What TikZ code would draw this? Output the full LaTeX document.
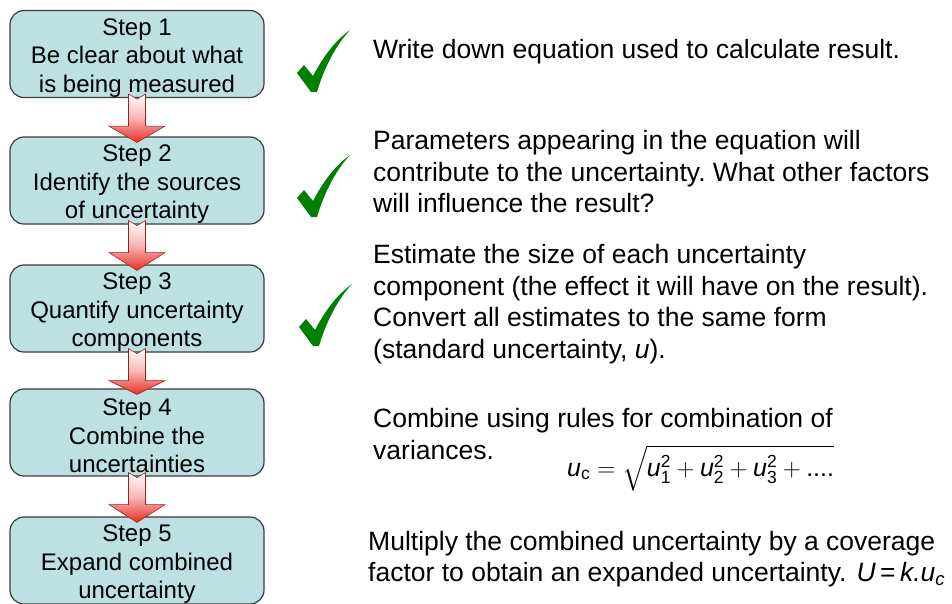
\documentclass[tikz,border=0pt]{standalone}
\usepackage{fontspec}
\setmainfont{Liberation Sans}
\usepackage{amsmath}
\usetikzlibrary{calc}
\frenchspacing

\definecolor{stepfill}{RGB}{189,224,227}
\definecolor{stepline}{RGB}{60,60,60}
\definecolor{tickgreen}{RGB}{0,128,0}
\definecolor{flowred}{RGB}{232,45,38}

\begin{document}
\begin{tikzpicture}[
    x=1pt, y=-1pt,
    stepbox/.style={draw=stepline, line width=1.2pt, fill=stepfill, rounded corners=14pt,
                    align=center, minimum width=254pt, minimum height=87pt, inner sep=0pt,
                    font=\fontsize{24}{28.5}\selectfont},
    note/.style={anchor=west, align=left, inner sep=0pt, font=\fontsize{26.5}{31.5}\selectfont},
    flowarrow/.style={draw=flowred!70!black, line width=0.6pt,
                      top color=white, bottom color=flowred, middle color=flowred!35!white},
    greentick/.pic={\fill[tickgreen] (1,43) -- (8,35) -- (17,46)
        .. controls (28,25) and (40,10) .. (54,0)
        .. controls (40,15) and (28,38) .. (21,62) -- (15,62) -- cycle;},
]
\useasboundingbox (0,0) rectangle (952,603);

% ---- Steps ----
\node[stepbox] (s1) at (137,54) {\rule{0pt}{24pt}Step 1\\Be clear about what\\is being measured};
\node[stepbox] (s2) at (137,180.5) {\rule{0pt}{24pt}Step 2\\Identify the sources\\of uncertainty};
\node[stepbox] (s3) at (137,308.5) {\rule{0pt}{24pt}Step 3\\Quantify uncertainty\\components};
\node[stepbox] (s4) at (137,432.5) {\rule{0pt}{24pt}Step 4\\Combine the\\uncertainties};
\node[stepbox] (s5) at (137,560.5) {\rule{0pt}{24pt}Step 5\\Expand combined\\uncertainty};

% ---- Block arrows between steps ----
\foreach \a/\b in {s1/s2, s2/s3, s3/s4, s4/s5}
    \shadedraw[flowarrow] ($(\a.south)+(-8.5,-4)$) -- ($(\a.south)+(0,1)$) -- ($(\a.south)+(8.5,-4)$)
        -- ($(\a.south)+(8.5,28)$) -- ($(\a.south)+(28,28)$) -- ($(\b.north)+(0,6)$)
        -- ($(\a.south)+(-28,28)$) -- ($(\a.south)+(-8.5,28)$) -- cycle;

% ---- Ticks ----
\pic at (296,30) {greentick};
\pic at (296,155) {greentick};
\pic at (298,284) {greentick};

% ---- Notes ----
\node[note] (n1) at (373,52) {Write down equation used to calculate result.};
\node[note] (n2) at (373,172) {Parameters appearing in the equation will\\contribute to the uncertainty. What other factors\\will influence the result?};
\node[note] (n3) at (373,304) {Estimate the size of each uncertainty\\component (the effect it will have on the result).\\Convert all estimates to the same form\\(standard uncertainty, \textit{u}).};
\node[note] (n4) at (373,434) {Combine using rules for combination of\\variances.};
\node[anchor=base west, inner sep=0pt, font=\fontsize{25}{29}\selectfont] (uc) at (567,476)
    {$\textit{u}_{\text{c}} = \sqrt{\textit{u}_{\text{1}}^{\text{2}} + \textit{u}_{\text{2}}^{\text{2}} + \textit{u}_{\text{3}}^{\text{2}} + \text{....}}$};
\node[note] (n5) at (368,559) {Multiply the combined uncertainty by a coverage\\factor to obtain an expanded uncertainty.\hspace{10pt}\textit{U}\,=\,\textit{k.u}\textsubscript{\textit{c}}};

\end{tikzpicture}
\end{document}
